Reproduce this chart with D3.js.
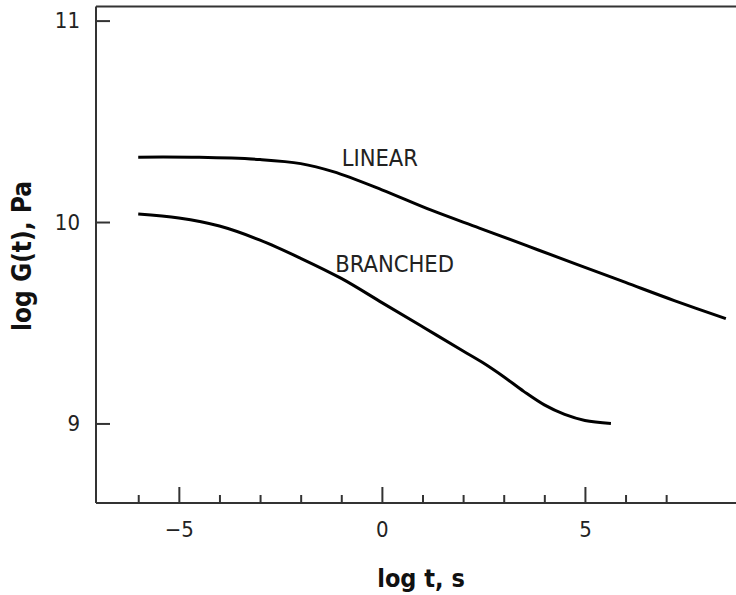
<!DOCTYPE html>
<html>
<head>
<meta charset="utf-8">
<script src="https://cdn.jsdelivr.net/npm/d3@7"></script>
<style>
  html, body { margin: 0; padding: 0; background: #fff; }
  svg { display: block; }
  .lbl { font-family: "DejaVu Sans Condensed", "DejaVu Sans", sans-serif; font-stretch: condensed; }
</style>
</head>
<body>
<svg id="chart" width="736" height="595"></svg>
<script>
// Stress relaxation modulus vs time, linear and branched polymer
const linearLogT = [-6, -4.5, -3, -2, -1.2, 0, 1.2, 2.4, 3.6, 4.8, 6, 7.2, 8.47];
const linearLogG = [10.322, 10.321, 10.31, 10.29, 10.25, 10.16, 10.06, 9.97, 9.88, 9.79, 9.70, 9.61, 9.52];

const branchedLogT = [-6, -5, -4, -3, -2, -1, 0, 1, 2, 2.5, 3, 3.5, 4, 4.5, 5, 5.64];
const branchedLogG = [10.04, 10.02, 9.98, 9.91, 9.82, 9.72, 9.60, 9.48, 9.36, 9.30, 9.232, 9.158, 9.092, 9.045, 9.015, 9.0];

const xMajorTicks = [-5, 0, 5];
const xMinorTicks = [-6, -4, -3, -2, -1, 1, 2, 3, 4, 6, 7];
const yMajorTicks = [9, 10, 11];

const seriesLabels = ["LINEAR", "BRANCHED"];
const xTitle = "log t, s";
const yTitle = "log G(t), Pa";

const svg = d3.select("#chart");
const plotLeft = 96, plotRight = 736, plotTop = 6.5, plotBottom = 503;

const x = d3.scaleLinear().domain([-7.04, 8.72]).range([plotLeft, plotRight]);
const y = d3.scaleLinear().domain([8.605, 11.07]).range([plotBottom, plotTop]);

const axisColor = "#333";

// frame: left axis, top line, bottom axis
svg.append("line").attr("x1", plotLeft).attr("x2", plotLeft).attr("y1", plotTop).attr("y2", plotBottom)
  .attr("stroke", axisColor).attr("stroke-width", 2);
svg.append("line").attr("x1", plotLeft).attr("x2", plotRight).attr("y1", plotTop).attr("y2", plotTop)
  .attr("stroke", axisColor).attr("stroke-width", 2);
svg.append("line").attr("x1", plotLeft).attr("x2", plotRight).attr("y1", plotBottom).attr("y2", plotBottom)
  .attr("stroke", axisColor).attr("stroke-width", 2);

// x ticks point inward (upward)
const xAxisMajor = d3.axisBottom(x).tickValues(xMajorTicks).tickSizeInner(-16).tickSizeOuter(0)
  .tickFormat(d => d < 0 ? "\u2212" + Math.abs(d) : String(d)).tickPadding(18);
const gx = svg.append("g").attr("transform", `translate(0,${plotBottom})`).call(xAxisMajor);
gx.select(".domain").remove();
gx.selectAll(".tick line").attr("stroke", axisColor).attr("stroke-width", 2);
gx.selectAll(".tick text").attr("class", "lbl").attr("font-size", 22).attr("fill", "#222");

const xAxisMinor = d3.axisBottom(x).tickValues(xMinorTicks).tickSizeInner(-8).tickSizeOuter(0).tickFormat("");
const gxm = svg.append("g").attr("transform", `translate(0,${plotBottom})`).call(xAxisMinor);
gxm.select(".domain").remove();
gxm.selectAll(".tick line").attr("stroke", axisColor).attr("stroke-width", 2);

// y ticks point inward (rightward)
const yAxis = d3.axisLeft(y).tickValues(yMajorTicks).tickSizeInner(-14).tickSizeOuter(0)
  .tickFormat(d3.format("d")).tickPadding(16);
const gy = svg.append("g").attr("transform", `translate(${plotLeft},0)`).call(yAxis);
gy.select(".domain").remove();
gy.selectAll(".tick line").attr("stroke", axisColor).attr("stroke-width", 2);
gy.selectAll(".tick text").attr("class", "lbl").attr("font-size", 22).attr("fill", "#222");

// curves
const line = d3.line().x(d => x(d[0])).y(d => y(d[1])).curve(d3.curveCatmullRom.alpha(0.5));
const linearPts = linearLogT.map((t, i) => [t, linearLogG[i]]);
const branchedPts = branchedLogT.map((t, i) => [t, branchedLogG[i]]);

[linearPts, branchedPts].forEach(pts => {
  svg.append("path").datum(pts).attr("d", line)
    .attr("fill", "none").attr("stroke", "#000").attr("stroke-width", 3)
    .attr("stroke-linecap", "butt");
});

// series labels
svg.append("text").attr("class", "lbl").attr("x", x(-0.99)).attr("y", y(10.28))
  .attr("font-size", 23.5).attr("fill", "#222").text(seriesLabels[0]);
svg.append("text").attr("class", "lbl").attr("x", x(-1.15)).attr("y", y(9.75))
  .attr("font-size", 23.5).attr("fill", "#222").text(seriesLabels[1]);

// axis titles
svg.append("text").attr("class", "lbl").attr("x", 421).attr("y", 587)
  .attr("text-anchor", "middle").attr("font-size", 25).attr("font-weight", "bold")
  .attr("fill", "#111").text(xTitle);
svg.append("text").attr("class", "lbl")
  .attr("transform", "translate(31,256) rotate(-90)")
  .attr("text-anchor", "middle").attr("font-size", 26).attr("font-weight", "bold")
  .attr("fill", "#111").text(yTitle);
</script>
</body>
</html>
